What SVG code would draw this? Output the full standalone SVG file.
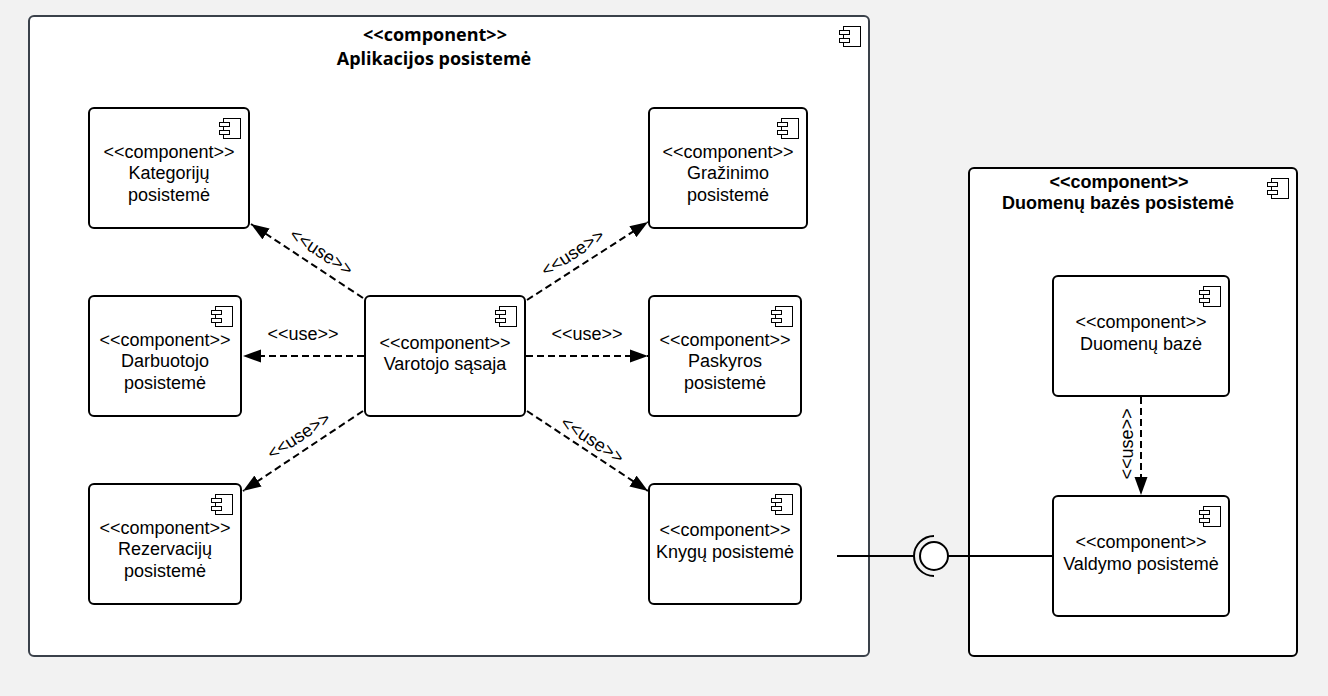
<svg xmlns="http://www.w3.org/2000/svg" xmlns:xlink="http://www.w3.org/1999/xlink" width="1328" height="696" viewBox="0 0 1328 696">
<style>
text{font-family:"Liberation Sans",Arial,sans-serif;font-size:18px;fill:#000;text-anchor:middle}
.box{fill:#fff;stroke:#000;stroke-width:2}
.outer{fill:#fff;stroke:#3a414a;stroke-width:2}
.ic{fill:#fff;stroke:#000;stroke-width:1}
.t1{font-family:"Open Sans","Liberation Sans",sans-serif;font-weight:700}
.t2{font-weight:700}
.dep{fill:none;stroke:#000;stroke-width:2;stroke-dasharray:7 4;marker-end:url(#arr)}
.sol{fill:none;stroke:#000;stroke-width:2}
</style>
<defs>
<marker id="arr" markerUnits="userSpaceOnUse" markerWidth="20" markerHeight="14" refX="18" refY="7" orient="auto"><path d="M0 0.5L18 7L0 13.5Z" fill="#000"/></marker>
<g id="icon"><rect class="ic" x="4.5" y="0.5" width="17" height="20"/><rect class="ic" x="0.5" y="4.5" width="10" height="4"/><rect class="ic" x="0.5" y="12.5" width="10" height="4"/></g>
</defs>
<rect width="1328" height="696" fill="#f2f2f2"/>
<g id="node-aplikacijos"><rect class="outer" x="29" y="16" width="840" height="640" rx="5"/><use href="#icon" x="839" y="26"/><text class="t1" x="435" y="41">&lt;&lt;component&gt;&gt;</text><text class="t1" x="434" y="64.5">Aplikacijos posistemė</text></g>
<g id="node-duomenu-sistema"><rect class="box" x="969" y="168" width="328" height="488" rx="5"/><use href="#icon" x="1267" y="178"/><text class="t2" x="1119" y="188">&lt;&lt;component&gt;&gt;</text><text class="t2" x="1118" y="209">Duomenų bazės posistemė</text></g>
<g id="node-kategoriju"><rect class="box" x="89" y="108" width="160" height="120" rx="5"/><use href="#icon" x="219" y="118"/><text x="169" y="158">&lt;&lt;component&gt;&gt;</text><text x="169" y="179">Kategorijų</text><text x="169" y="201">posistemė</text></g>
<g id="node-grazinimo"><rect class="box" x="649" y="108" width="158" height="120" rx="5"/><use href="#icon" x="777" y="118"/><text x="728" y="158">&lt;&lt;component&gt;&gt;</text><text x="728" y="179">Gražinimo</text><text x="728" y="201">posistemė</text></g>
<g id="node-darbuotojo"><rect class="box" x="89" y="296" width="152" height="120" rx="5"/><use href="#icon" x="211" y="306"/><text x="165" y="346">&lt;&lt;component&gt;&gt;</text><text x="165" y="367">Darbuotojo</text><text x="165" y="389">posistemė</text></g>
<g id="node-varotojo"><rect class="box" x="365" y="296" width="160" height="120" rx="5"/><use href="#icon" x="495" y="306"/><text x="445" y="349">&lt;&lt;component&gt;&gt;</text><text x="445" y="370">Varotojo sąsaja</text></g>
<g id="node-paskyros"><rect class="box" x="649" y="296" width="152" height="120" rx="5"/><use href="#icon" x="771" y="306"/><text x="725" y="346">&lt;&lt;component&gt;&gt;</text><text x="725" y="367">Paskyros</text><text x="725" y="389">posistemė</text></g>
<g id="node-rezervaciju"><rect class="box" x="89" y="484" width="152" height="120" rx="5"/><use href="#icon" x="211" y="494"/><text x="165" y="534">&lt;&lt;component&gt;&gt;</text><text x="165" y="555">Rezervacijų</text><text x="165" y="577">posistemė</text></g>
<g id="node-knygu"><rect class="box" x="649" y="484" width="152" height="120" rx="5"/><use href="#icon" x="771" y="494"/><text x="725" y="536">&lt;&lt;component&gt;&gt;</text><text x="725" y="558">Knygų posistemė</text></g>
<g id="node-duomenu-baze"><rect class="box" x="1053" y="276" width="176" height="120" rx="5"/><use href="#icon" x="1199" y="286"/><text x="1141" y="328">&lt;&lt;component&gt;&gt;</text><text x="1141" y="350">Duomenų bazė</text></g>
<g id="node-valdymo"><rect class="box" x="1053" y="496" width="176" height="120" rx="5"/><use href="#icon" x="1199" y="506"/><text x="1141" y="548">&lt;&lt;component&gt;&gt;</text><text x="1141" y="570">Valdymo posistemė</text></g>
<g id="connectors">
<path class="dep" d="M363 298L251 224"/>
<path class="dep" d="M527 300L648 222"/>
<path class="dep" d="M364 356H243"/>
<path class="dep" d="M526 356H648"/>
<path class="dep" d="M363 411L243 491"/>
<path class="dep" d="M527 411L648 491"/>
<path class="dep" d="M1141 397V495"/>
<path class="sol" d="M837 556H914"/>
<path class="sol" d="M948 556H1053"/>
<path class="sol" d="M934 536A20 20 0 0 0 934 576"/>
<circle cx="934" cy="556" r="14" fill="#fff" stroke="#000" stroke-width="2"/>
<text x="303" y="340">&lt;&lt;use&gt;&gt;</text>
<text x="587" y="340">&lt;&lt;use&gt;&gt;</text>
<text transform="translate(318 257) rotate(33)">&lt;&lt;use&gt;&gt;</text>
<text transform="translate(576 258) rotate(-33)">&lt;&lt;use&gt;&gt;</text>
<text transform="translate(302 441) rotate(-33)">&lt;&lt;use&gt;&gt;</text>
<text transform="translate(589 445) rotate(33)">&lt;&lt;use&gt;&gt;</text>
<text transform="translate(1133 444) rotate(-90)">&lt;&lt;use&gt;&gt;</text>
</g>
</svg>
